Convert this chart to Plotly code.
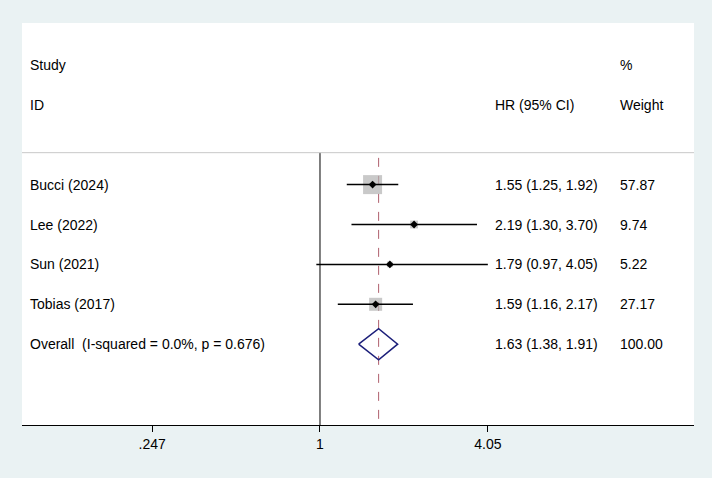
import math
import plotly.graph_objects as go

studies = ["Bucci (2024)", "Lee (2022)", "Sun (2021)", "Tobias (2017)"]
hr = [1.55, 2.19, 1.79, 1.59]
lo = [1.25, 1.30, 0.97, 1.16]
hi = [1.92, 3.70, 4.05, 2.17]
weights = [57.87, 9.74, 5.22, 27.17]
overall_label = "Overall&nbsp; (I-squared = 0.0%, p = 0.676)"
overall = [1.63, 1.38, 1.91]
overall_weight = "100.00"
tick_vals = [0.247, 1, 4.05]
tick_text = [".247", "1", "4.05"]

FONT = "Liberation Sans, Arial, Helvetica, sans-serif"
rows = [3, 4, 5, 6]
orow = 7
ybot = 9.025
ytop = -1.05

fig = go.Figure()

# null line at 1
fig.add_trace(go.Scatter(x=[1, 1], y=[2.2, ybot], mode="lines",
                         line=dict(color="black", width=1), hoverinfo="skip"))
# overall dashed line
fig.add_trace(go.Scatter(x=[overall[0], overall[0]], y=[2.33, ybot], mode="lines",
                         line=dict(color="#b0606e", width=1, dash="dash"), hoverinfo="skip"))

# weight squares
sizes = [19 * math.sqrt(w / max(weights)) for w in weights]
fig.add_trace(go.Scatter(x=hr, y=rows, mode="markers",
                         marker=dict(symbol="square", size=sizes, color="#b2b2b2",
                                     line=dict(width=0)), hoverinfo="skip"))
# CI lines
for r, l, h in zip(rows, lo, hi):
    fig.add_trace(go.Scatter(x=[l, h], y=[r, r], mode="lines",
                             line=dict(color="black", width=1.5), hoverinfo="skip"))
# point estimates
fig.add_trace(go.Scatter(x=hr, y=rows, mode="markers",
                         marker=dict(symbol="diamond", size=6, color="black"),
                         hoverinfo="skip"))
# overall diamond
e, dl, dh = overall
fig.add_trace(go.Scatter(x=[dl, e, dh, e, dl], y=[orow, orow - 0.39, orow, orow + 0.39, orow],
                         mode="lines", line=dict(color="#1c1f7a", width=1.5), hoverinfo="skip"))

ann = []
def txt(x, y, s):
    ann.append(dict(x=x, y=y, xref="paper", yref="y", text=s, showarrow=False,
                    xanchor="left", yanchor="middle", font=dict(size=14, color="black", family=FONT)))

xs, xh, xw = 0.0089, 0.7008, 0.8869
txt(xs, 0, "Study")
txt(xs, 1, "ID")
txt(xh, 1, "HR (95% CI)")
txt(xw, 0, "%")
txt(xw, 1, "Weight")
for r, s, h, l, u, w in zip(rows, studies, hr, lo, hi, weights):
    txt(xs, r, s)
    txt(xh, r, f"{h:.2f} ({l:.2f}, {u:.2f})")
    txt(xw, r, f"{w:.2f}")
txt(xs, orow, overall_label)
txt(xh, orow, f"{overall[0]:.2f} ({overall[1]:.2f}, {overall[2]:.2f})")
txt(xw, orow, overall_weight)

fig.update_layout(
    width=712, height=478,
    margin=dict(l=22, r=18, t=23, b=53),
    paper_bgcolor="#eaf2f3", plot_bgcolor="white",
    showlegend=False,
    annotations=ann,
    shapes=[dict(type="line", xref="paper", yref="y", x0=0, x1=1, y0=2.2, y1=2.2,
                 line=dict(color="#c8c8c8", width=1))],
    font=dict(family=FONT, size=14, color="black"),
    xaxis=dict(type="log", range=[-1.0785, 1.3536], tickvals=tick_vals, ticktext=tick_text,
               ticks="outside", ticklen=6, tickcolor="black", showline=True,
               linecolor="black", linewidth=1, showgrid=False, zeroline=False,
               tickfont=dict(size=14, family=FONT, color="black")),
    yaxis=dict(range=[ybot, ytop], visible=False, showgrid=False, zeroline=False),
)

fig.write_html("out.html")
